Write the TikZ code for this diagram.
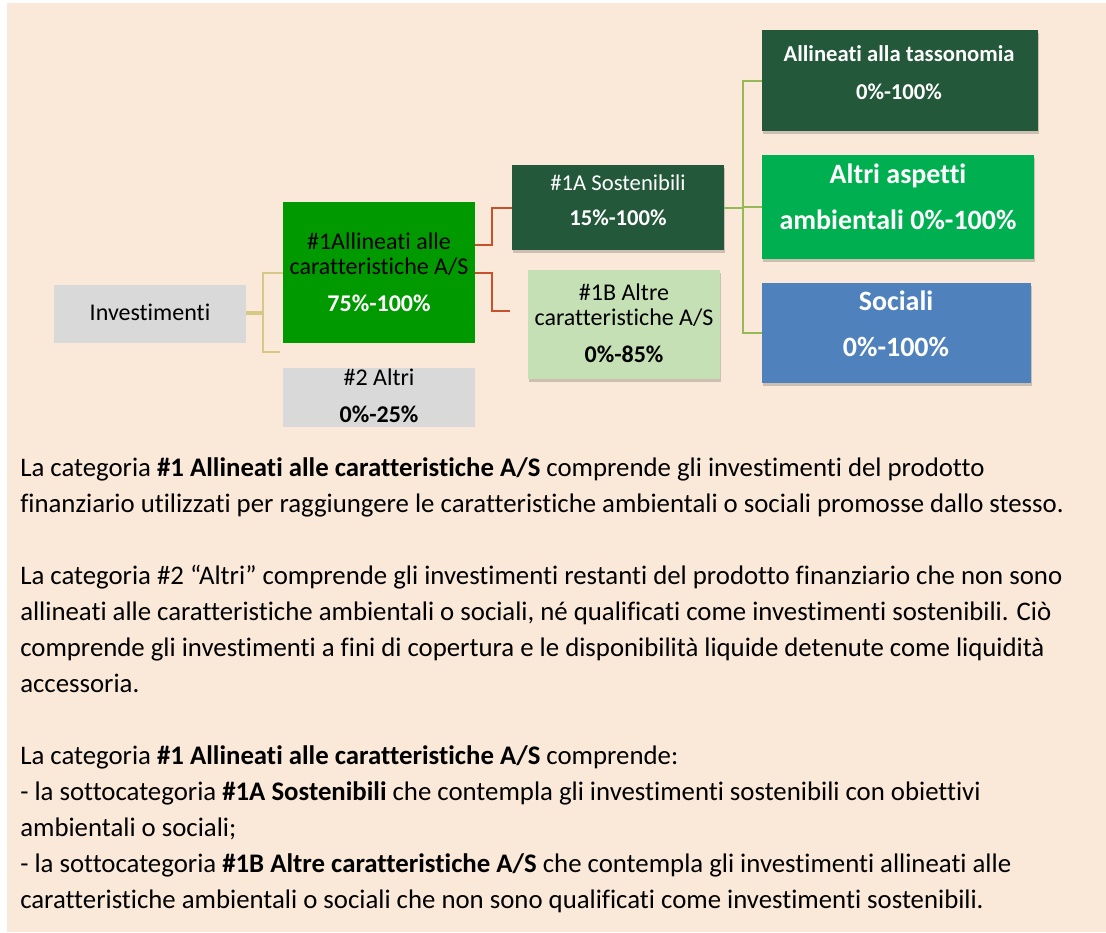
\documentclass[tikz,border=0pt]{standalone}
\usepackage{fontspec}
\setmainfont{Carlito}[Ligatures=NoCommon]
\usetikzlibrary{shadows}
\definecolor{bg}{RGB}{250,232,216}
\definecolor{boxgray}{RGB}{217,217,217}
\definecolor{midgreen}{RGB}{0,153,0}
\definecolor{darkgreen}{RGB}{36,88,58}
\definecolor{brightgreen}{RGB}{0,176,80}
\definecolor{socblue}{RGB}{79,129,189}
\definecolor{lightgreen}{RGB}{197,224,180}
\definecolor{tanline}{RGB}{215,200,135}
\definecolor{redline}{RGB}{200,80,45}
\definecolor{oliveline}{RGB}{150,185,85}
\tikzset{
  box/.style={rectangle, draw=none, inner sep=0pt},
  shd/.style={drop shadow={shadow xshift=1pt, shadow yshift=-2.5pt, opacity=0.18, fill=black}},
  treg/.style={inner sep=0pt, text height=11pt, text depth=0pt, font=\fontsize{18}{21}\selectfont},
  tregs/.style={inner sep=0pt, text height=10.5pt, text depth=0pt, font=\fontsize{17}{20}\selectfont},
  tbold/.style={inner sep=0pt, text height=11pt, text depth=0pt, font=\fontsize{18}{21}\selectfont\bfseries},
  tbolds/.style={inner sep=0pt, text height=10.5pt, text depth=0pt, font=\fontsize{17}{20}\selectfont\bfseries},
  tbig/.style={inner sep=0pt, text height=13pt, text depth=0pt, font=\fontsize{21}{25}\selectfont\bfseries},
  body/.style={inner sep=0pt, anchor=base west, font=\fontsize{20.1}{27}\selectfont},
  conn/.style={line width=1.5pt},
}
\begin{document}
\begin{tikzpicture}[x=0.75pt,y=-0.75pt]
\useasboundingbox (0,0) rectangle (1106,932);
\fill[bg] (7,3) rectangle (1106,932);

% boxes
\node[box, fill=boxgray, minimum width=144pt, minimum height=43.5pt] (inv) at (150,314) {};
\node[box, fill=midgreen, minimum width=144pt, minimum height=105.75pt] (a1) at (379,272.5) {};
\node[box, fill=boxgray, minimum width=144pt, minimum height=44.25pt] (a2) at (379,397.5) {};
\node[box, shd, fill=darkgreen, minimum width=159pt, minimum height=63.75pt] (s1a) at (618,207.5) {};
\node[box, shd, fill=lightgreen, minimum width=144pt, minimum height=81.75pt] (s1b) at (624,324.5) {};
\node[box, shd, fill=darkgreen, minimum width=207pt, minimum height=75.75pt] (tax) at (900,80.5) {};
\node[box, shd, fill=brightgreen, minimum width=204pt, minimum height=78pt] (amb) at (898,207) {};
\node[box, shd, fill=socblue, minimum width=201.75pt, minimum height=75pt] (soc) at (896.5,333) {};

% box texts
\node[treg] (inv-t) at (150,313) {Investimenti};
\node[treg] (a1-t1) at (379,242) {\#1Allineati alle};
\node[treg] (a1-t2) at (379,267) {caratteristiche A/S};
\node[tbold, text=white] (a1-t3) at (379,304) {75\%-100\%};
\node[treg] (a2-t1) at (379,378) {\#2 Altri};
\node[tbold] (a2-t2) at (379,415) {0\%-25\%};
\node[tregs, text=white] (s1a-t1) at (618,183) {\#1A Sostenibili};
\node[tbolds, text=white] (s1a-t2) at (618,218) {15\%-100\%};
\node[treg] (s1b-t1) at (624,293) {\#1B Altre};
\node[treg] (s1b-t2) at (624,318) {caratteristiche A/S};
\node[tbold] (s1b-t3) at (624,355) {0\%-85\%};
\node[tbolds, text=white] (tax-t1) at (899,54) {Allineati alla tassonomia};
\node[tbolds, text=white] (tax-t2) at (899,92) {0\%-100\%};
\node[tbig, text=white] (amb-t1) at (898,175) {Altri aspetti};
\node[tbig, text=white] (amb-t2) at (898,221) {ambientali 0\%-100\%};
\node[tbig, text=white] (soc-t1) at (896,302) {Sociali};
\node[tbig, text=white] (soc-t2) at (896,348) {0\%-100\%};

% connectors
\coordinate (a2end) at (280,352);
\coordinate (s1bend) at (510,311);
\draw[conn, tanline] ([shift={(0,-2)}]inv.east) -- ++(17,0) |- (a1.west);
\draw[conn, tanline] (inv.east) -- ++(17,0) |- (a2end);
\draw[conn, redline] ([shift={(0,-27.5)}]a1.east) -- ++(17,0) |- (s1a.west);
\draw[conn, redline] ([shift={(0,0.5)}]a1.east) -- ++(17,0) |- (s1bend);
\draw[conn, oliveline] (s1a.east) -- ++(19,0) coordinate (gj);
\draw[conn, oliveline] (gj) |- (tax.west);
\draw[conn, oliveline] (gj) |- (amb.west);
\draw[conn, oliveline] (gj) |- (soc.west);

% body text
\node[body] (l1) at (20,476) {La categoria \textbf{\#1 Allineati alle caratteristiche A/S} comprende gli investimenti del prodotto};
\node[body] (l2) at (20,512) {finanziario utilizzati per raggiungere le caratteristiche ambientali o sociali promosse dallo stesso.};
\node[body] (l3) at (20,584) {La categoria \#2 “Altri” comprende gli investimenti restanti del prodotto finanziario che non sono};
\node[body] (l4) at (20,620) {allineati alle caratteristiche ambientali o sociali, né qualificati come investimenti sostenibili. Ciò};
\node[body] (l5) at (20,656) {comprende gli investimenti a fini di copertura e le disponibilità liquide detenute come liquidità};
\node[body] (l6) at (20,692) {accessoria.};
\node[body] (l7) at (20,764) {La categoria \textbf{\#1 Allineati alle caratteristiche A/S} comprende:};
\node[body] (l8) at (20,800) {- la sottocategoria \textbf{\#1A Sostenibili} che contempla gli investimenti sostenibili con obiettivi};
\node[body] (l9) at (20,836) {ambientali o sociali;};
\node[body] (l10) at (20,872) {- la sottocategoria \textbf{\#1B Altre caratteristiche A/S} che contempla gli investimenti allineati alle};
\node[body] (l11) at (20,908) {caratteristiche ambientali o sociali che non sono qualificati come investimenti sostenibili.};
\end{tikzpicture}
\end{document}
